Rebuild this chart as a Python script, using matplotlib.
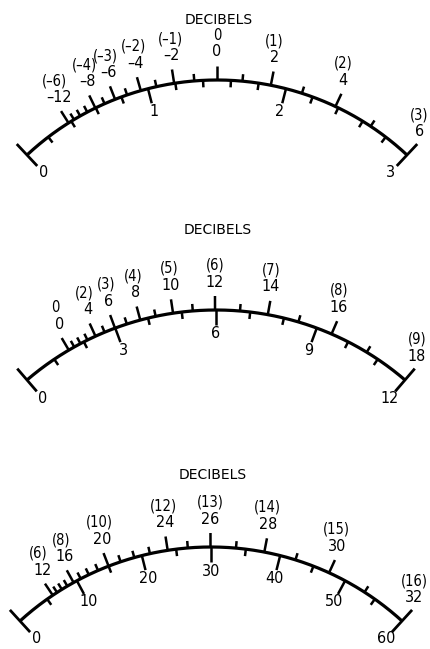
import numpy as np
import matplotlib.pyplot as plt

# three meter scales: linear volts underneath, decibels (and power dB in brackets) on top
REF = 1.5  # 0 dB point on the linear scale

m1_lin_max = 3
m1_lin_labels = [1, 2]
m1_lin_minor = [0.2, 0.4, 0.6, 0.8, 1.2, 1.4, 1.6, 1.8, 2.2, 2.4, 2.6, 2.8]
m1_db_major = [-12, -8, -6, -4, -2, 0, 2, 4, 6]
m1_db_paren = ["(–6)", "(–4)", "(–3)", "(–2)", "(–1)", "0", "(1)", "(2)", "(3)"]
m1_db_text = ["–12", "–8", "–6", "–4", "–2", "0", "2", "4", "6"]
m1_db_minor = [-11, -10, -9, -7, -5, -3, -1, 1, 3, 5]

m2_lin_max = 12
m2_lin_labels = [3, 6, 9]
m2_lin_minor = [1, 2, 4, 5, 7, 8, 10, 11]
m2_db_major = [0, 4, 6, 8, 10, 12, 14, 16, 18]
m2_db_paren = ["0", "(2)", "(3)", "(4)", "(5)", "(6)", "(7)", "(8)", "(9)"]
m2_db_text = ["0", "4", "6", "8", "10", "12", "14", "16", "18"]
m2_db_minor = [1, 2, 3, 5, 7, 9, 11, 13, 15, 17]

m3_lin_max = 60
m3_lin_labels = [10, 20, 30, 40, 50]
m3_lin_minor = [5, 15, 25, 35, 45, 55]
m3_db_major = [12, 16, 20, 24, 26, 28, 30, 32]
m3_db_paren = ["(6)", "(8)", "(10)", "(12)", "(13)", "(14)", "(15)", "(16)"]
m3_db_text = ["12", "16", "20", "24", "26", "28", "30", "32"]
m3_db_minor = [13, 14, 15, 17, 18, 19, 21, 22, 23, 25, 27, 29, 31]

FONT = dict(family=['DejaVu Sans'], fontstretch='condensed')

fig = plt.figure(figsize=(4.31, 6.49), dpi=100)
ax = fig.add_axes([0, 0, 1, 1])
ax.set_xlim(0, 431)
ax.set_ylim(649, 0)
ax.axis('off')


def draw_meter(cx, top, half_w, sag, title_y, lin_max, lin_labels, lin_minor,
               db_major, db_text, db_paren, db_minor):
    R = (half_w**2 + sag**2) / (2 * sag)
    th = np.arcsin(half_w / R)
    cy = top + R

    def ang(v):
        return -th + 2 * th * v / lin_max

    def pt(v, r):
        a = ang(v)
        return cx + r * np.sin(a), cy - r * np.cos(a)

    a = np.linspace(-th, th, 300)
    ax.plot(cx + R * np.sin(a), cy - R * np.cos(a), color='black', lw=2.3,
            solid_capstyle='butt')

    def tick(v, r0, r1, lw=1.8):
        x0, y0 = pt(v, r0)
        x1, y1 = pt(v, r1)
        ax.plot([x0, x1], [y0, y1], color='black', lw=lw, solid_capstyle='butt')

    # end caps
    for v in [0, lin_max]:
        tick(v, R - 15, R + 15, lw=2.0)

    # linear scale below the arc
    for v in lin_minor:
        tick(v, R - 7, R)
    for v in lin_labels:
        tick(v, R - 15, R)
    for v, s in zip([0] + lin_labels + [lin_max],
                    ["0"] + [str(x) for x in lin_labels] + [str(lin_max)]):
        x, y = pt(v, R - 24)
        ax.text(x, y, s, ha='center', va='center', fontsize=11.5, **FONT)

    # decibel scale above the arc
    for d in db_minor:
        tick(REF * 10 ** (d / 20), R, R + 7)
    for d, s, p in zip(db_major, db_text, db_paren):
        v = REF * 10 ** (d / 20)
        if abs(v - lin_max) < 0.02 * lin_max:
            v = lin_max  # last mark sits on the end cap
        else:
            tick(v, R, R + 14)
        x, y = pt(v, R + 18)
        y -= 10
        ux = min(np.sin(ang(v)), 0)
        ax.text(x, y, s, ha='center', va='center', fontsize=11.5, **FONT)
        ax.text(x + 8 * ux, y - 17, p, ha='center', va='center', fontsize=10.5,
                **FONT)

    ax.text(cx + 2, title_y, "DECIBELS", ha='center', va='center', fontsize=10,
            family=['DejaVu Sans'])


draw_meter(217, 80, 190, 75, 20, m1_lin_max, m1_lin_labels, m1_lin_minor,
           m1_db_major, m1_db_text, m1_db_paren, m1_db_minor)
draw_meter(216, 310, 189, 70, 230, m2_lin_max, m2_lin_labels, m2_lin_minor,
           m2_db_major, m2_db_text, m2_db_paren, m2_db_minor)
draw_meter(211, 547, 191, 74, 475, m3_lin_max, m3_lin_labels, m3_lin_minor,
           m3_db_major, m3_db_text, m3_db_paren, m3_db_minor)

fig.savefig('out.png', dpi=100)
